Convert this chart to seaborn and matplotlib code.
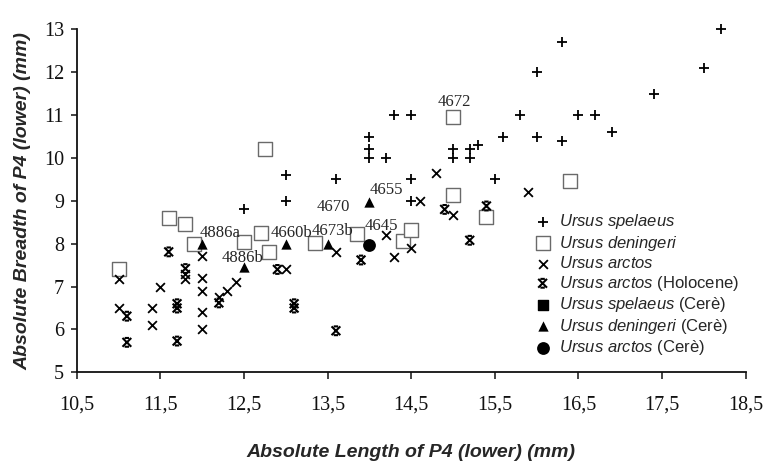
import matplotlib
matplotlib.use('Agg')
import matplotlib.pyplot as plt
from matplotlib.path import Path
import numpy as np
import pandas as pd
import seaborn as sns

# Ursus spelaeus
spelaeus_x = [12.5, 13.0, 13.0, 13.6, 14.0, 14.0, 14.0, 14.2, 14.3, 14.5, 14.5, 14.5, 15.0, 15.0, 15.2,
              15.2, 15.3, 15.5, 15.6, 15.8, 16.0, 16.0, 16.3, 16.3, 16.5, 16.7, 16.9, 17.4, 18.0, 18.2]
spelaeus_y = [8.8, 9.0, 9.6, 9.5, 10.5, 10.2, 10.0, 10.0, 11.0, 11.0, 9.5, 9.0, 10.2, 10.0, 10.2,
              10.0, 10.3, 9.5, 10.5, 11.0, 12.0, 10.5, 12.7, 10.4, 11.0, 11.0, 10.6, 11.5, 12.1, 13.0]

# Ursus deningeri
deningeri_x = [11.0, 11.6, 11.8, 11.9, 12.5, 12.7, 12.75, 12.8, 13.35, 13.85, 14.4, 14.5, 15.0, 15.0, 15.4, 16.4]
deningeri_y = [7.42, 8.6, 8.47, 8.0, 8.05, 8.25, 10.2, 7.8, 8.02, 8.23, 8.07, 8.33, 10.96, 9.13, 8.62, 9.46]

# Ursus arctos
arctos_x = [11.0, 11.0, 11.4, 11.4, 11.5, 11.8, 11.8, 12.0, 12.0, 12.0, 12.0, 12.0, 12.2, 12.3, 12.4,
            13.0, 13.6, 14.2, 14.3, 14.5, 14.6, 14.8, 15.0, 15.9]
arctos_y = [7.17, 6.49, 6.49, 6.1, 7.0, 7.3, 7.17, 7.71, 7.2, 6.9, 6.4, 6.0, 6.75, 6.9, 7.1,
            7.4, 7.8, 8.2, 7.7, 7.9, 9.0, 9.66, 8.68, 9.2]

# Ursus arctos (Holocene)
holo_x = [11.1, 11.1, 11.6, 11.7, 11.7, 11.7, 11.8, 12.2, 12.9, 13.1, 13.1, 13.6, 13.9, 14.9, 15.2, 15.4]
holo_y = [6.31, 5.7, 7.81, 6.6, 6.5, 5.73, 7.42, 6.62, 7.4, 6.6, 6.5, 5.97, 7.62, 8.8, 8.08, 8.88]

# Cerè specimens
cere_den_x = [12.0, 12.5, 13.0, 13.5, 14.0]
cere_den_y = [8.0, 7.46, 8.0, 8.0, 8.98]
cere_arc_x = [14.0]
cere_arc_y = [7.98]

# specimen numbers
label_text = ['4886a', '4886b', '4660b', '4673b', '4670', '4655', '4645', '4672']
label_x = [11.975, 12.23, 12.82, 13.31, 13.37, 14.0, 13.94, 14.82]
label_y = [8.25, 7.67, 8.25, 8.30, 8.86, 9.25, 8.42, 11.31]

sns.set_style('white')
plt.rcParams['font.family'] = ['Liberation Sans', 'DejaVu Sans']
plt.rcParams['mathtext.fontset'] = 'custom'
plt.rcParams['mathtext.it'] = 'Liberation Sans:italic'
plt.rcParams['mathtext.rm'] = 'Liberation Sans'

# x con le barrette (Olocene)
holo_marker = Path([(-1, -1), (1, 1), (-1, 1), (1, -1), (-0.5, 1), (0.5, 1), (-0.5, -1), (0.5, -1)],
                   [Path.MOVETO, Path.LINETO, Path.MOVETO, Path.LINETO,
                    Path.MOVETO, Path.LINETO, Path.MOVETO, Path.LINETO])

fig = plt.figure(figsize=(7.64, 4.62), dpi=100)
ax = fig.add_axes([0.1004, 0.194, 0.8756, 0.7426])

sns.scatterplot(x=spelaeus_x, y=spelaeus_y, marker='+', s=45, color='black', linewidth=1.3,
                ax=ax, label=r'$\it{Ursus\ spelaeus}$', clip_on=False)
sns.scatterplot(x=deningeri_x, y=deningeri_y, marker='s', s=110, facecolor='white', edgecolor='#6a6a6a',
                linewidth=1.0, ax=ax, label=r'$\it{Ursus\ deningeri}$', clip_on=False)
sns.scatterplot(x=arctos_x, y=arctos_y, marker='x', s=40, color='black', linewidth=1.3,
                ax=ax, label=r'$\it{Ursus\ arctos}$', clip_on=False)
sns.scatterplot(x=holo_x, y=holo_y, marker=holo_marker, s=40, facecolor='none', edgecolor='black',
                linewidth=1.5, ax=ax, label=r'$\it{Ursus\ arctos}$ (Holocene)', clip_on=False)
ax.scatter([], [], marker='s', s=60, color='black', label=r'$\it{Ursus\ spelaeus}$ (Cerè)')
sns.scatterplot(x=cere_den_x, y=cere_den_y, marker='^', s=55, color='black', linewidth=0,
                ax=ax, label=r'$\it{Ursus\ deningeri}$ (Cerè)', clip_on=False)
sns.scatterplot(x=cere_arc_x, y=cere_arc_y, marker='o', s=85, color='black', linewidth=0,
                ax=ax, label=r'$\it{Ursus\ arctos}$ (Cerè)', clip_on=False)

for t, lx, ly in zip(label_text, label_x, label_y):
    ax.text(lx, ly, t, ha='left', va='center', fontsize=12, family='Liberation Serif')

ax.set_xlim(10.5, 18.5)
ax.set_ylim(5, 13)
ax.set_xticks(np.arange(10.5, 18.6, 1))
ax.set_xticklabels([f'{v:.1f}'.replace('.', ',') for v in np.arange(10.5, 18.6, 1)])
ax.set_yticks(range(5, 14))
for lab in ax.get_xticklabels() + ax.get_yticklabels():
    lab.set_family('Liberation Serif')
    lab.set_fontsize(14.5)
ax.tick_params(axis='x', direction='out', length=5, width=1.1, pad=12, bottom=True, colors='#111111')
ax.tick_params(axis='y', direction='out', length=4, width=1.1, pad=5, left=True, colors='#111111')

sns.despine(ax=ax)
for side in ['left', 'bottom']:
    ax.spines[side].set_linewidth(1.3)
    ax.spines[side].set_color('#111111')

ax.set_xlabel('Absolute Length of P4 (lower) (mm)', fontsize=14, fontweight='bold', fontstyle='italic',
              labelpad=21)
ax.set_ylabel('Absolute Breadth of P4 (lower) (mm)', fontsize=14, fontweight='bold', fontstyle='italic',
              labelpad=9)

ax.legend(loc='upper left', bbox_to_anchor=(0.684, 0.467), frameon=False, borderpad=0, fontsize=12,
          handlelength=1, handletextpad=0.5, labelspacing=0.15, borderaxespad=0)

plt.savefig('out.png', dpi=100)
plt.close()
